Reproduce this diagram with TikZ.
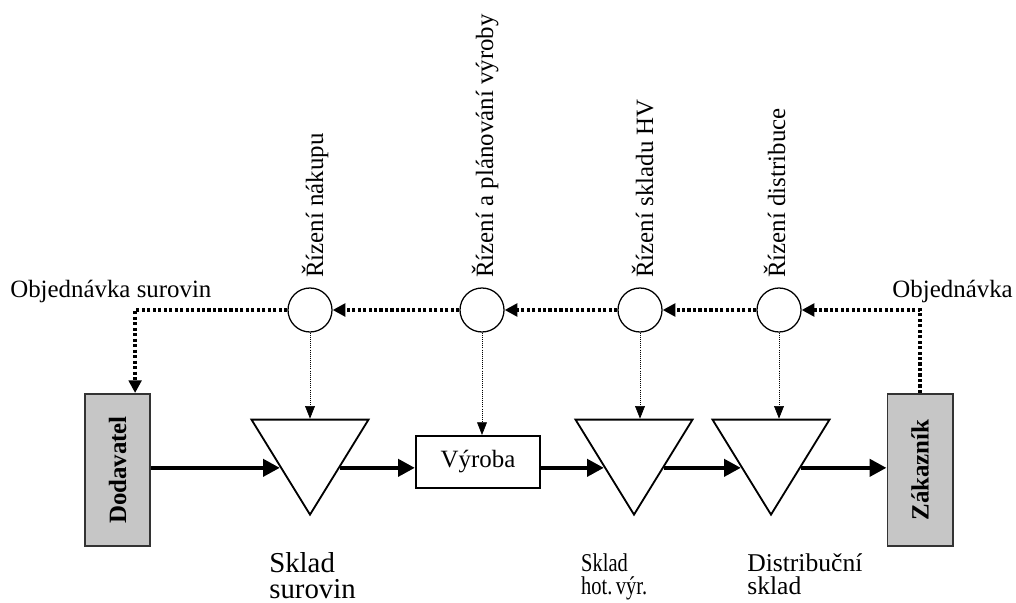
\documentclass[tikz,border=0pt]{standalone}
\usepackage{fontspec}
\setmainfont{Liberation Serif}
\usepackage{tikz}
\usetikzlibrary{arrows.meta,positioning,calc,shapes.geometric}
\definecolor{BoxGray}{HTML}{C6C6C6}
\definecolor{EdgeGray}{HTML}{333333}

\newcommand{\txtmain}{\fontsize{17.7}{21}\selectfont}
\newcommand{\txtbig}{\fontsize{20.5}{18.5}\selectfont}
\newcommand{\txtlow}{\fontsize{18.2}{16.5}\selectfont}

\tikzset{
  partner/.style={draw=EdgeGray,fill=BoxGray,line width=1.4pt,inner sep=0pt,
    minimum width=1.625cm,minimum height=3.8cm,font=\txtmain\bfseries},
  store/.style={draw,line width=1.3pt,isosceles triangle,isosceles triangle stretches,
    shape border rotate=-90,minimum width=2.925cm,minimum height=2.375cm,inner sep=0pt},
  process/.style={draw,line width=1.5pt,minimum width=3.1cm,minimum height=1.3cm,
    inner sep=0pt,font=\txtmain},
  ctrlpt/.style={draw,circle,line width=0.9pt,minimum size=1.1cm,inner sep=0pt},
  flow/.style={line width=3.2pt,-{Triangle[length=12pt,width=12pt]}},
  order/.style={line width=2.6pt,dash pattern=on 2.2pt off 1.7pt,
    -{Triangle[length=9pt,width=9pt]}},
  ctrl/.style={line width=0.5pt,densely dotted,-{Triangle[length=9pt,width=7pt]}},
  vlabel/.style={rotate=90,anchor=base west,inner sep=0pt,font=\txtmain},
  hlabel/.style={inner sep=0pt,font=\txtmain}
}

\begin{document}
\begin{tikzpicture}[x=0.025cm,y=-0.025cm]
  \useasboundingbox (0,0) rectangle (1016,603);

  % material flow
  \node[partner] (dod) at (117.5,470) {\rotatebox{90}{Dodavatel}};
  \node[partner] (zak) at (920,470) {\rotatebox{90}{Zákazník}};
  \node[store,anchor=apex] (t1) at (310,517) {};
  \node[process] (vyr) at (478,462) {Výroba};
  \node[store,anchor=apex] (t2) at (634,517) {};
  \node[store,anchor=apex] (t3) at (771,517) {};

  \draw[flow] (dod.east |- t1.right side) -- (t1.right side);
  \draw[flow] (t1.left side) -- (vyr.west |- t1.left side);
  \draw[flow] (vyr.east |- t2.right side) -- (t2.right side);
  \draw[flow] (t2.left side) -- (t3.right side);
  \draw[flow] (t3.left side) -- (zak.west |- t3.left side);

  % control points
  \node[ctrlpt] (c1) at (310,310) {};
  \node[ctrlpt] (c2) at (482,310) {};
  \node[ctrlpt] (c3) at (640,310) {};
  \node[ctrlpt] (c4) at (779,310) {};

  \node[vlabel] (l1) at (323,278) {Řízení nákupu};
  \node[vlabel] (l2) at (493,278) {Řízení a plánování výroby};
  \node[vlabel] (l3) at (653,278) {Řízení skladu HV};
  \node[vlabel] (l4) at (785,278) {Řízení distribuce};

  % orders
  \coordinate (dodin) at ([xshift=0.44cm]dod.north);
  \draw[order] (zak.north) |- (c4);
  \draw[order] (c4) -- (c3);
  \draw[order] (c3) -- (c2);
  \draw[order] (c2) -- (c1);
  \draw[order] (c1) -| (dodin);

  \node[hlabel,anchor=base west] (obs) at (10,297) {Objednávka surovin};
  \node[hlabel,anchor=base east] (obz) at (1013,297) {Objednávka};

  \draw[ctrl] (c1) -- (t1);
  \draw[ctrl] (c2) -- (c2 |- vyr.north);
  \draw[ctrl] (c3) -- (c3 |- t2.north);
  \draw[ctrl] (c4) -- (c4 |- t3.north);

  % store names
  \node[inner sep=0pt,anchor=north west,align=left,font=\txtbig] (s1) at (269,552) {Sklad\\surovin};
  \node[inner sep=0pt,anchor=north west,align=left,font=\txtlow,xscale=0.8,transform shape] (s2) at (581,553) {Sklad\\hot.\,výr.};
  \node[inner sep=0pt,anchor=north west,align=left,font=\txtlow] (s3) at (747,553) {Distribuční\\sklad};
\end{tikzpicture}
\end{document}
